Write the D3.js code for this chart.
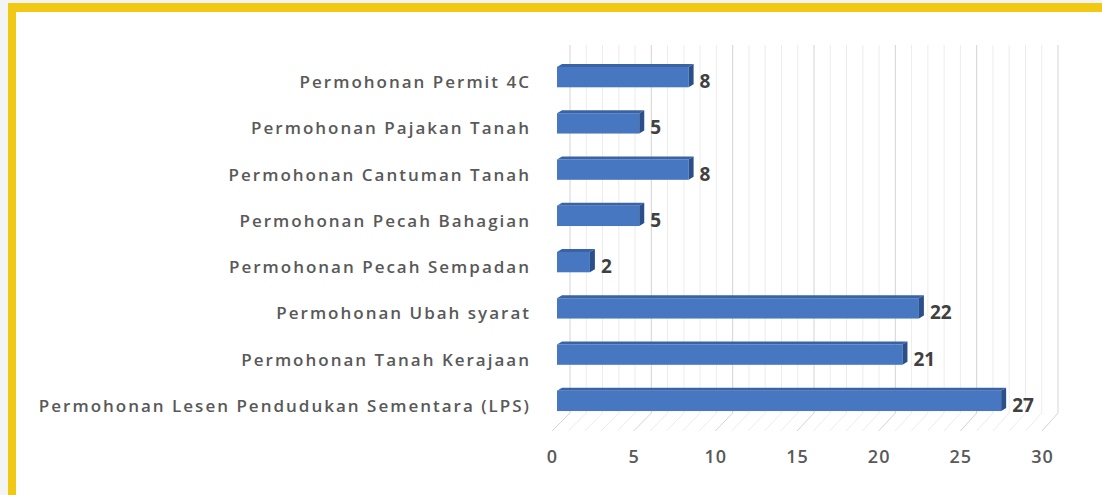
<!DOCTYPE html>
<html>
<head>
<meta charset="utf-8">
<script src="https://cdn.jsdelivr.net/npm/d3@7"></script>
<style>
  body { margin: 0; background: #f3f4f4; }
  svg { display: block; }
</style>
</head>
<body>
<svg id="chart" width="1102" height="495"></svg>
<script>
// data, top to bottom as in the picture
var categories = [
  "Permohonan Permit 4C",
  "Permohonan Pajakan Tanah",
  "Permohonan Cantuman Tanah",
  "Permohonan Pecah Bahagian",
  "Permohonan Pecah Sempadan",
  "Permohonan Ubah syarat",
  "Permohonan Tanah Kerajaan",
  "Permohonan Lesen Pendudukan Sementara (LPS)"
];
var values = [8, 5, 8, 5, 2, 22, 21, 27];
var tickValues = [0, 5, 10, 15, 20, 25, 30];

var svg = d3.select("#chart");

// frame
svg.append("rect").attr("x", 8).attr("y", 3).attr("width", 1094).attr("height", 492).attr("fill", "#ffffff");
svg.append("rect").attr("x", 8).attr("y", 3).attr("width", 1094).attr("height", 9).attr("fill", "#f1c814");
svg.append("rect").attr("x", 8).attr("y", 3).attr("width", 8).attr("height", 492).attr("fill", "#f1c814");

// three scales: back wall, bar face, front floor edge
var xBack = d3.scaleLinear().domain([0, 30]).range([570, 1058]);
var xBar = d3.scaleLinear().domain([0, 30]).range([557, 1050.5]);
var xFront = d3.scaleLinear().domain([0, 30]).range([552, 1042]);
var y = d3.scaleBand().domain(categories).range([54, 424]).paddingInner(0.56).paddingOuter(0.28);

var wallTop = 45, wallBottom = 413, floorFront = 431;

// back wall grid (minor + major)
var minor = d3.range(0, 31);
var grid = svg.append("g");
grid.selectAll("line.v").data(minor).enter().append("line")
  .attr("x1", function(d){ return xBack(d); })
  .attr("x2", function(d){ return xBack(d); })
  .attr("y1", wallTop).attr("y2", wallBottom)
  .attr("stroke", function(d){ return d % 5 == 0 ? "#d4d4d4" : "#ececec"; })
  .attr("stroke-width", 1);
grid.selectAll("line.f").data(minor).enter().append("line")
  .attr("x1", function(d){ return xBack(d); })
  .attr("y1", wallBottom)
  .attr("x2", function(d){ return xFront(d); })
  .attr("y2", floorFront)
  .attr("stroke", function(d){ return d % 5 == 0 ? "#d4d4d4" : "#ececec"; })
  .attr("stroke-width", 1);

// bars (3d-ish: top face, front face, side face)
var dx = 5, dy = 3;
var bars = svg.append("g").selectAll("g").data(values).enter().append("g");
bars.append("polygon")
  .attr("points", function(d, i){
    var y0 = y(categories[i]), x0 = xBar(0), x1 = xBar(d);
    return [[x0, y0], [x0 + dx, y0 - dy], [x1 + dx, y0 - dy], [x1, y0]].join(" ");
  })
  .attr("fill", "#3a63a6");
bars.append("rect")
  .attr("x", xBar(0))
  .attr("y", function(d, i){ return y(categories[i]); })
  .attr("width", function(d){ return xBar(d) - xBar(0); })
  .attr("height", y.bandwidth())
  .attr("fill", "#4677c0");
bars.append("polygon")
  .attr("points", function(d, i){
    var y0 = y(categories[i]), x1 = xBar(d), h = y.bandwidth();
    return [[x1, y0], [x1 + dx, y0 - dy], [x1 + dx, y0 + h - dy], [x1, y0 + h]].join(" ");
  })
  .attr("fill", "#2b4f8a");

// value labels
svg.append("g").selectAll("text").data(values).enter().append("text")
  .attr("x", function(d){ return xBar(d) + 11; })
  .attr("y", function(d, i){ return y(categories[i]) + y.bandwidth() / 2 + 11; })
  .attr("font-family", "Open Sans, sans-serif")
  .attr("font-weight", 700)
  .attr("font-size", 19)
  .attr("fill", "#404040")
  .text(function(d){ return d; });

// category labels
svg.append("g").selectAll("text").data(categories).enter().append("text")
  .attr("x", 531)
  .attr("y", function(d){ return y(d) + y.bandwidth() / 2 + 11; })
  .attr("text-anchor", "end")
  .attr("font-family", "Open Sans, sans-serif")
  .attr("font-weight", 600)
  .attr("font-size", 17)
  .attr("letter-spacing", 2)
  .attr("fill", "#595959")
  .text(function(d){ return d; });

// x axis labels along the front floor edge
var xAxis = d3.axisBottom(xFront).tickValues(tickValues).tickSize(0).tickPadding(0);
var ax = svg.append("g").attr("transform", "translate(0," + 450 + ")").call(xAxis);
ax.select(".domain").remove();
ax.selectAll("text")
  .attr("font-family", "Open Sans, sans-serif")
  .attr("font-weight", 600)
  .attr("font-size", 18)
  .attr("letter-spacing", 1)
  .attr("fill", "#595959");
</script>
</body>
</html>
